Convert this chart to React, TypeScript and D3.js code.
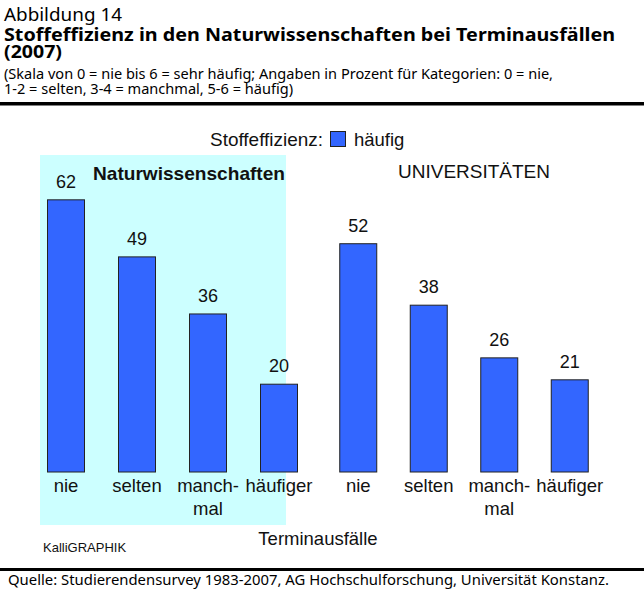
import React from "react";
import * as d3 from "d3";

// Daten
const categories = ["nie", "selten", "manchmal", "häufiger"];
const tickLabels = [["nie"], ["selten"], ["manch-", "mal"], ["häufiger"]];
const naturValues = [62, 49, 36, 20];
const uniValues = [52, 38, 26, 21];

const BAR_FILL = "#3366ff";
const BAR_STROKE = "#222";
const PANEL = "#ccffff";
const ARIAL = "'Liberation Sans', Arial, sans-serif";
const HEAD = "'Noto Sans', 'Open Sans', sans-serif";

const W = 644;
const H = 600;
const BAR_W = 37;

const App: React.FC = () => {
    const y = d3.scaleLinear().domain([0, 100]).range([472, 33]);
    const xLeft = d3.scalePoint<string>().domain(categories).range([30.5, 314.5]).padding(0.5);
    const xRight = d3.scalePoint<string>().domain(categories).range([323, 605]).padding(0.5);

    const group = (values: number[], x: d3.ScalePoint<string>, key: string) => (
        <g key={key}>
            {values.map((v, i) => {
                const cx = x(categories[i]) ?? 0;
                return (
                    <g key={i}>
                        <rect x={cx - BAR_W / 2} y={y(v)} width={BAR_W} height={y(0) - y(v)}
                            fill={BAR_FILL} stroke={BAR_STROKE} strokeWidth={1} />
                        <text x={cx} y={y(v) - 12} textAnchor="middle" fontSize={18}>{v}</text>
                        {tickLabels[i].map((t, j) => (
                            <text key={j} x={cx} y={492 + j * 23} textAnchor="middle" fontSize={18.5}>{t}</text>
                        ))}
                    </g>
                );
            })}
        </g>
    );

    return (
        <svg width={W} height={H} viewBox={`0 0 ${W} ${H}`}
            style={{ position: "absolute", left: 0, top: 0, display: "block", background: "#fff" }}>
            {/* Kopf */}
            <g fontFamily={HEAD} fill="#000">
                <text x={4} y={21} fontSize={18} textLength={118} lengthAdjust="spacingAndGlyphs">Abbildung 14</text>
                <text x={4} y={41} fontSize={18} fontWeight="bold" textLength={611} lengthAdjust="spacingAndGlyphs">
                    Stoffeffizienz in den Naturwissenschaften bei Terminausfällen
                </text>
                <text x={4} y={58} fontSize={18} fontWeight="bold" textLength={58} lengthAdjust="spacingAndGlyphs">(2007)</text>
                <text x={4} y={79} fontSize={13.5} textLength={549} lengthAdjust="spacingAndGlyphs">
                    (Skala von 0 = nie bis 6 = sehr häufig; Angaben in Prozent für Kategorien: 0 = nie,
                </text>
                <text x={4} y={94} fontSize={13.5} textLength={289} lengthAdjust="spacingAndGlyphs">
                    1-2 = selten, 3-4 = manchmal, 5-6 = häufig)
                </text>
            </g>
            <rect x={0} y={102} width={W} height={3.5} fill="#000" />

            {/* Diagramm */}
            <g fontFamily={ARIAL} fill="#111">
                <rect x={40} y={155} width={246} height={370} fill={PANEL} />

                <text x={210} y={146} fontSize={18.5} textLength={113} lengthAdjust="spacingAndGlyphs">Stoffeffizienz:</text>
                <rect x={330.5} y={131.5} width={15} height={15} fill={BAR_FILL} stroke={BAR_STROKE} strokeWidth={1} />
                <text x={354} y={146} fontSize={18.5}>häufig</text>

                <text x={93} y={180} fontSize={18.5} fontWeight="bold" textLength={192} lengthAdjust="spacingAndGlyphs">Naturwissenschaften</text>
                <text x={474} y={178} fontSize={19} textAnchor="middle">UNIVERSITÄTEN</text>

                {group(naturValues, xLeft, "natur")}
                {group(uniValues, xRight, "uni")}

                <text x={318} y={545} fontSize={18.5} textAnchor="middle">Terminausfälle</text>
                <text x={43} y={552} fontSize={13}>KalliGRAPHIK</text>
            </g>

            {/* Fuß */}
            <rect x={0} y={568} width={W} height={3} fill="#000" />
            <text x={8} y={585} fontFamily={HEAD} fontSize={14} textLength={601} lengthAdjust="spacingAndGlyphs">
                Quelle: Studierendensurvey 1983-2007, AG Hochschulforschung, Universität Konstanz.
            </text>
        </svg>
    );
};

export default App;
